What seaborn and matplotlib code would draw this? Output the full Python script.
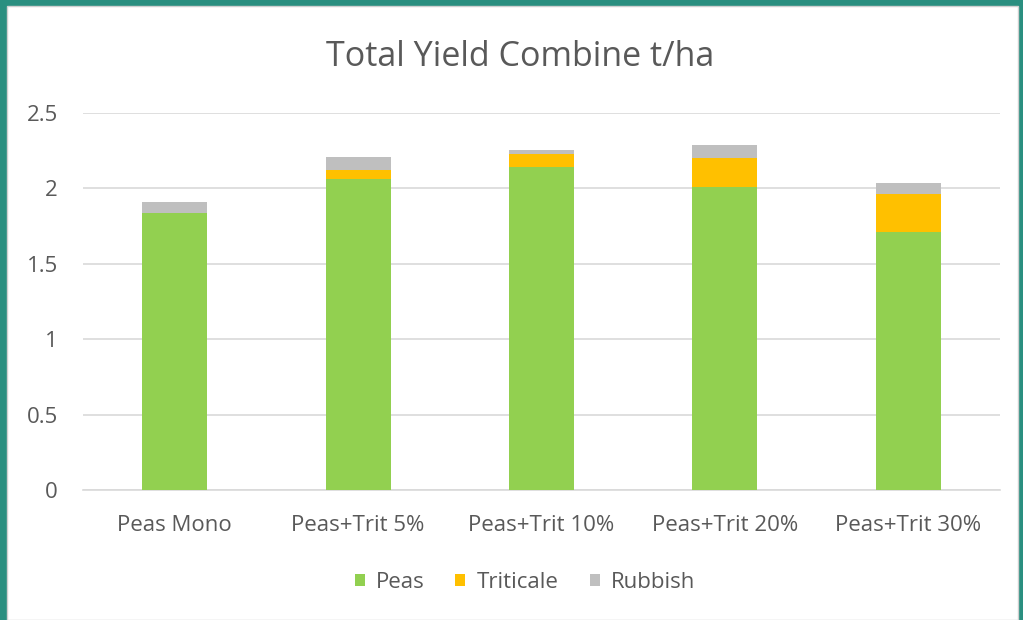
import matplotlib
matplotlib.use("Agg")
import matplotlib.pyplot as plt
from matplotlib.patches import Rectangle
import seaborn as sns
import pandas as pd

# Yield per treatment (t/ha)
treatments = ["Peas Mono", "Peas+Trit 5%", "Peas+Trit 10%", "Peas+Trit 20%", "Peas+Trit 30%"]
peas = [1.84, 2.06, 2.14, 2.01, 1.71]
triticale = [0.00, 0.06, 0.09, 0.19, 0.25]
rubbish = [0.07, 0.09, 0.025, 0.09, 0.075]

series_names = ["Peas", "Triticale", "Rubbish"]
series_colors = ["#92D050", "#FFC000", "#BFBFBF"]
y_ticks = [0, 0.5, 1, 1.5, 2, 2.5]
y_tick_labels = ["0", "0.5", "1", "1.5", "2", "2.5"]

sns.set_theme(style="white")
plt.rcParams["font.family"] = ["Open Sans", "DejaVu Sans"]

df = pd.DataFrame({"treatment": treatments, "Peas": peas,
                   "Triticale": triticale, "Rubbish": rubbish})
# cumulative heights for stacking: draw tallest layer first
df["cum_peas"] = df["Peas"]
df["cum_trit"] = df["Peas"] + df["Triticale"]
df["cum_all"] = df["cum_trit"] + df["Rubbish"]

fig = plt.figure(figsize=(10.23, 6.2), dpi=100)
fig.patch.set_facecolor("#2A8F80")
# white card inside the teal frame
fig.add_artist(Rectangle((7 / 1023, 0), 1 - 12 / 1023, 1 - 6 / 620,
                         transform=fig.transFigure, facecolor="white",
                         edgecolor="#D0D0D0", linewidth=1.0, zorder=0))

ax = fig.add_axes([83 / 1023, 1 - 490 / 620, 917 / 1023, (490 - 113) / 620])
ax.set_facecolor("none")

layers = [("cum_all", series_colors[2]), ("cum_trit", series_colors[1]),
          ("cum_peas", series_colors[0])]
for col, color in layers:
    sns.barplot(data=df, x="treatment", y=col, color=color, width=0.355,
                saturation=1, ax=ax, zorder=3, edgecolor="none", linewidth=0)

ax.set_ylim(0, 2.5)
ax.set_xlim(-0.5, 4.5)
ax.set_yticks(y_ticks)
ax.set_yticklabels(y_tick_labels)
ax.yaxis.grid(True, color="#D9D9D9", linewidth=1.2, zorder=0)
ax.set_axisbelow(True)
for side in ["top", "right", "left"]:
    ax.spines[side].set_visible(False)
ax.spines["bottom"].set_color("#D9D9D9")
ax.spines["bottom"].set_linewidth(1.2)
ax.set_xlabel("")
ax.set_ylabel("")
ax.tick_params(axis="both", length=0, labelsize=16, labelcolor="#595959")
ax.tick_params(axis="x", pad=18)
ax.tick_params(axis="y", pad=18)

fig.text(0.508, 1 - 66 / 620, "Total Yield Combine t/ha", ha="center",
         va="baseline", fontsize=24.5, color="#595959")

handles = [Rectangle((0, 0), 1, 1, facecolor=c, edgecolor="none") for c in series_colors]
fig.legend(handles, series_names, loc="center", bbox_to_anchor=(0.513, 1 - 582 / 620),
           ncol=3, frameon=False, fontsize=16, labelcolor="#595959",
           handlelength=0.45, handleheight=0.45, handletextpad=0.5, columnspacing=1.4)

fig.savefig("out.png", dpi=100, facecolor=fig.get_facecolor())
